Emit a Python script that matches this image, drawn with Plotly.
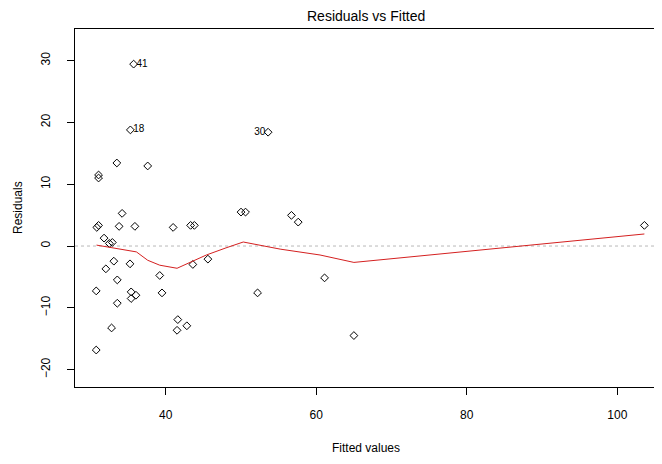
import plotly.graph_objects as go

# Fitted values and residuals
fitted = [35.73, 35.30, 53.60, 33.50, 37.60, 31.07, 31.07, 34.20, 50.00, 50.60,
          56.70, 57.60, 31.07, 30.84, 33.80, 35.90, 40.98, 43.30, 43.80, 103.60,
          31.80, 32.50, 32.90, 33.10, 32.04, 35.25, 43.60, 45.60, 39.20, 33.56,
          61.10, 30.76, 35.40, 36.04, 35.40, 39.50, 52.20, 33.56, 41.60, 42.80,
          41.50, 32.80, 65.00, 30.76]
resid = [29.42, 18.78, 18.41, 13.43, 12.95, 11.49, 11.00, 5.28, 5.49, 5.49,
         4.96, 3.87, 3.34, 3.01, 3.18, 3.18, 3.01, 3.34, 3.34, 3.34,
         1.28, 0.42, 0.58, -2.45, -3.69, -2.88, -2.98, -2.12, -4.76, -5.48,
         -5.15, -7.26, -7.42, -7.96, -8.49, -7.58, -7.58, -9.25, -11.90, -12.90,
         -13.63, -13.25, -14.48, -16.82]

# Labelled outliers
label_ids = ["41", "18", "30"]
label_x = [35.73, 35.30, 53.60]
label_y = [29.42, 18.78, 18.41]
label_pos = ["middle right", "middle right", "middle left"]

# Smoothed (lowess) line
smooth_x = [30.8, 32.8, 36.1, 37.6, 39.2, 41.5, 43.4, 45.4, 48.0, 50.3, 55.2, 60.5, 65.0, 103.6]
smooth_y = [0.15, -0.3, -0.95, -2.3, -3.1, -3.6, -2.6, -1.45, -0.3, 0.65, -0.5, -1.45, -2.65, 1.95]

x_ticks = [40, 60, 80, 100]
y_ticks = [-20, -10, 0, 10, 20, 30]

FONT = "Liberation Sans, Arial, sans-serif"

fig = go.Figure()
fig.add_trace(go.Scatter(
    x=[27.94, 105.94], y=[0, 0], mode="lines",
    line=dict(color="#b8b8b8", width=1, dash="dot"), hoverinfo="skip", showlegend=False))
fig.add_trace(go.Scatter(
    x=fitted, y=resid, mode="markers",
    marker=dict(symbol="diamond-open", size=6, color="black", line=dict(width=1, color="black")),
    showlegend=False))
fig.add_trace(go.Scatter(
    x=smooth_x, y=smooth_y, mode="lines",
    line=dict(color="#d42020", width=1), showlegend=False))
fig.add_trace(go.Scatter(
    x=label_x, y=label_y, mode="text",
    text=[s + " " if p == "middle left" else " " + s for s, p in zip(label_ids, label_pos)],
    textposition=label_pos, textfont=dict(size=10, color="black", family=FONT),
    showlegend=False))

fig.update_layout(
    width=662, height=464,
    margin=dict(l=67, r=8, t=21, b=85),
    paper_bgcolor="white", plot_bgcolor="white",
    font=dict(family=FONT, size=12, color="black"),
    showlegend=False,
    xaxis=dict(range=[27.94, 105.94], tickvals=x_ticks, ticks="outside", ticklen=7,
               tickcolor="black", showline=True, linecolor="black", linewidth=1,
               mirror=True, showgrid=False, zeroline=False, ticklabelstandoff=10,
               tickfont=dict(size=12), automargin=False),
    yaxis=dict(range=[-22.8, 35.1], tickvals=y_ticks, ticks="outside", ticklen=7,
               tickcolor="black", showline=True, linecolor="black", linewidth=1,
               mirror=True, showgrid=False, zeroline=False, tickangle=-90,
               ticklabelstandoff=12, tickfont=dict(size=12), automargin=False),
    annotations=[
        dict(text="Residuals vs Fitted", xref="paper", yref="paper", x=(366 - 75) / 587, y=1,
             yshift=13, showarrow=False, font=dict(size=14), xanchor="center", yanchor="middle"),
        dict(text="Fitted values", xref="paper", yref="paper", x=(366 - 75) / 587, y=0,
             yshift=-(448 - 387), showarrow=False, font=dict(size=12), xanchor="center", yanchor="middle"),
        dict(text="Residuals", xref="paper", yref="paper", x=0, y=0.5, textangle=-90,
             xshift=-(75 - 18), showarrow=False, font=dict(size=12), xanchor="center", yanchor="middle"),
    ],
)

fig.write_html("out.html")
